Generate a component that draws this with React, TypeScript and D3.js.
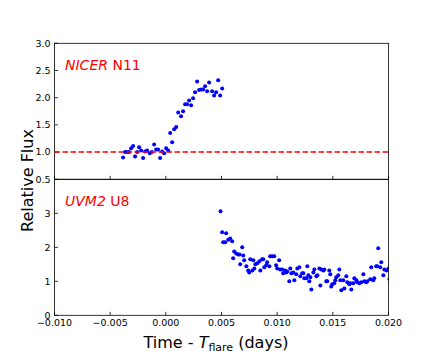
import React, { useEffect, useRef } from "react";
import * as d3 from "d3";

// NICER panel (top)
const nicerTime = [
  -0.00384, -0.00366, -0.00348, -0.0033, -0.00312, -0.00294, -0.00276, -0.00258, -0.0024, -0.00222,
  -0.00204, -0.00186, -0.00168, -0.00144, -0.00126, -0.00105, -0.00087, -0.00069, -0.00051, -0.00033,
  -0.00015, 0.00003, 0.00021, 0.00039, 0.00057, 0.00075, 0.00093, 0.00111, 0.00137, 0.00155,
  0.00173, 0.00191, 0.00209, 0.00227, 0.00245, 0.00263, 0.00281, 0.00299, 0.00317, 0.00335,
  0.00353, 0.00371, 0.00389, 0.00416, 0.00434, 0.00452, 0.0047, 0.00488, 0.00506,
];
const nicerFlux = [
  0.9, 1.0, 1.0, 1.0, 1.07, 1.11, 0.92, 1.0, 1.09, 1.03,
  0.89, 1.01, 1.03, 0.98, 1.0, 1.14, 1.05, 1.05, 0.89, 1.01,
  0.98, 1.07, 1.03, 1.35, 1.18, 1.42, 1.46, 1.73, 1.66, 1.75,
  1.88, 1.88, 1.95, 1.86, 1.99, 2.1, 2.3, 2.14, 2.15, 2.15,
  2.21, 2.12, 2.28, 2.12, 2.04, 2.1, 2.32, 2.04, 2.17,
];

// UVM2 panel (bottom)
const uvmTime = [
  0.00491, 0.00506, 0.00542, 0.00515, 0.00533, 0.0056, 0.00578, 0.00596, 0.00605, 0.00614,
  0.00632, 0.0065, 0.00662, 0.00668, 0.00686, 0.00695, 0.00704, 0.00723, 0.0074, 0.00749,
  0.00758, 0.00777, 0.00786, 0.00795, 0.00804, 0.00822, 0.0084, 0.00849, 0.00865, 0.00875,
  0.00884, 0.00902, 0.0091, 0.0093, 0.00937, 0.00955, 0.00973, 0.00991, 0.01, 0.01018,
  0.01027, 0.01045, 0.01054, 0.01072, 0.01081, 0.0109, 0.01109, 0.01118, 0.01127, 0.01145,
  0.01154, 0.01172, 0.01181, 0.01199, 0.01208, 0.01225, 0.01235, 0.01244, 0.01262, 0.01271,
  0.0128, 0.01289, 0.01298, 0.01307, 0.01325, 0.01334, 0.01352, 0.01361, 0.01379, 0.01388,
  0.01397, 0.01415, 0.01424, 0.01441, 0.0145, 0.01468, 0.01477, 0.01486, 0.01495, 0.01513,
  0.01522, 0.01531, 0.01549, 0.01558, 0.01567, 0.01594, 0.01576, 0.01603, 0.01621, 0.0163,
  0.01648, 0.01657, 0.01666, 0.01684, 0.01693, 0.01711, 0.0172, 0.01738, 0.01756, 0.01774,
  0.01783, 0.018, 0.01809, 0.01836, 0.01845, 0.01863, 0.01872, 0.0189, 0.01899, 0.01908,
  0.01926, 0.01935, 0.01954, 0.01963, 0.01981, 0.02, 0.02009,
];
const uvmFlux = [
  3.06, 2.44, 2.41, 2.15, 2.15, 2.22, 2.26, 2.18, 1.68, 1.88,
  1.82, 1.79, 1.79, 1.5, 2.0, 1.76, 1.62, 1.44, 1.32, 1.26,
  1.65, 1.32, 1.62, 1.38, 1.5, 1.53, 1.59, 1.32, 1.65, 1.65,
  1.41, 1.47, 1.56, 1.44, 1.74, 1.74, 1.74, 1.47, 1.38, 1.62,
  1.35, 1.35, 1.24, 1.32, 1.26, 1.29, 1.0, 1.38, 1.24, 1.26,
  1.03, 1.21, 1.38, 1.41, 1.15, 1.24, 1.24, 1.09, 1.09, 1.44,
  1.18, 1.0, 1.12, 0.76, 1.26, 1.35, 1.15, 1.18, 1.38, 0.88,
  1.35, 1.32, 1.35, 1.0, 1.0, 1.32, 1.21, 0.85, 0.91, 0.94,
  1.03, 1.12, 1.18, 1.35, 1.03, 1.03, 0.74, 0.79, 1.15, 0.97,
  0.91, 0.94, 0.76, 0.94, 1.09, 1.03, 0.97, 0.94, 0.97, 1.21,
  1.0, 0.97, 1.0, 1.06, 1.41, 1.03, 1.09, 1.44, 1.44, 1.97,
  1.41, 1.56, 1.18, 1.35, 1.32, 1.38, 1.06,
];

const xTicks = [-0.01, -0.005, 0, 0.005, 0.01, 0.015, 0.02];
const nicerTicks = [0.5, 1.0, 1.5, 2.0, 2.5, 3.0];
const uvmTicks = [0, 1, 2, 3];

const width = 432;
const height = 360;
const font = "DejaVu Sans, sans-serif";

const App = () => {
  const ref = useRef<SVGSVGElement>(null);

  useEffect(() => {
    const svg = d3.select(ref.current);
    svg.selectAll("*").remove();

    const left = 54.5;
    const right = 388.5;
    const x = d3.scaleLinear().domain([-0.01, 0.02]).range([left, right]);
    const yTop = d3.scaleLinear().domain([0.5, 3.0]).range([179.3, 43.3]);
    const yBot = d3.scaleLinear().domain([0, 4]).range([315.3, 179.3]);
    const fmt = (v: number) => d3.format(".3f")(v).replace("-", "\u2212");

    const panel = (
      y: d3.ScaleLinear<number, number>,
      times: number[],
      flux: number[],
      yTicks: number[],
      yFmt: (v: number) => string,
      showX: boolean,
      id: string
    ) => {
      const [y0, y1] = y.range();
      const clipId = "clip-" + id;
      svg
        .append("clipPath")
        .attr("id", clipId)
        .append("rect")
        .attr("x", left)
        .attr("y", y1)
        .attr("width", right - left)
        .attr("height", y0 - y1);

      const g = svg.append("g").attr("clip-path", `url(#${clipId})`);
      g.selectAll("circle")
        .data(times)
        .enter()
        .append("circle")
        .attr("cx", (d) => x(d))
        .attr("cy", (d, i) => y(flux[i]))
        .attr("r", 2)
        .attr("fill", "#0000ff");

      // bottom ticks (inward)
      svg
        .append("g")
        .selectAll("line")
        .data(xTicks)
        .enter()
        .append("line")
        .attr("x1", (d) => x(d))
        .attr("x2", (d) => x(d))
        .attr("y1", y0)
        .attr("y2", y0 - 3.5)
        .attr("stroke", "#000")
        .attr("stroke-width", 0.8);

      // left ticks (inward)
      svg
        .append("g")
        .selectAll("line")
        .data(yTicks)
        .enter()
        .append("line")
        .attr("x1", left)
        .attr("x2", left + 3.5)
        .attr("y1", (d) => y(d))
        .attr("y2", (d) => y(d))
        .attr("stroke", "#000")
        .attr("stroke-width", 0.8);

      svg
        .append("g")
        .selectAll("text")
        .data(yTicks)
        .enter()
        .append("text")
        .attr("x", left - 4)
        .attr("y", (d) => y(d))
        .attr("dy", "0.35em")
        .attr("text-anchor", "end")
        .style("font-family", font)
        .style("font-size", "9.5px")
        .text((d) => yFmt(d));

      if (showX) {
        svg
          .append("g")
          .selectAll("text")
          .data(xTicks)
          .enter()
          .append("text")
          .attr("x", (d) => x(d))
          .attr("y", y0 + 11)
          .attr("text-anchor", "middle")
          .style("font-family", font)
          .style("font-size", "9.5px")
          .text((d) => fmt(d));
      }

      svg
        .append("rect")
        .attr("x", left)
        .attr("y", y1)
        .attr("width", right - left)
        .attr("height", y0 - y1)
        .attr("fill", "none")
        .attr("stroke", "#000")
        .attr("stroke-width", 0.8);
    };

    panel(yTop, nicerTime, nicerFlux, nicerTicks, (v) => d3.format(".1f")(v), false, "top");
    panel(yBot, uvmTime, uvmFlux, uvmTicks, (v) => String(v), true, "bot");

    // reference line at flux = 1
    svg
      .append("line")
      .attr("x1", left)
      .attr("x2", right)
      .attr("y1", yTop(1))
      .attr("y2", yTop(1))
      .attr("stroke", "#ff0000")
      .attr("stroke-width", 1.5)
      .attr("stroke-dasharray", "5.5,2.5");

    // panel labels
    const lab1 = svg
      .append("text")
      .attr("x", 65)
      .attr("y", 70)
      .attr("fill", "#ff0000")
      .style("font-family", font)
      .style("font-size", "14px");
    lab1.append("tspan").style("font-style", "italic").text("NICER");
    lab1.append("tspan").text(" N11");

    const lab2 = svg
      .append("text")
      .attr("x", 65)
      .attr("y", 206)
      .attr("fill", "#ff0000")
      .style("font-family", font)
      .style("font-size", "14px");
    lab2.append("tspan").style("font-style", "italic").text("UVM2");
    lab2.append("tspan").text(" U8");

    // axis titles
    svg
      .append("text")
      .attr("transform", `translate(33,180.5) rotate(-90)`)
      .attr("text-anchor", "middle")
      .style("font-family", font)
      .style("font-size", "16px")
      .text("Relative Flux");

    const xl = svg
      .append("text")
      .attr("x", 216)
      .attr("y", 348)
      .attr("text-anchor", "middle")
      .style("font-family", font)
      .style("font-size", "16px");
    xl.append("tspan").text("Time - ");
    xl.append("tspan").style("font-style", "italic").text("T");
    xl.append("tspan").attr("dy", 3).style("font-size", "11px").text("flare");
    xl.append("tspan").attr("dy", -3).text(" (days)");
  }, []);

  return (
    <svg
      ref={ref}
      width={width}
      height={height}
      style={{ position: "absolute", left: 0, top: 0, background: "#fff" }}
    ></svg>
  );
};

export default App;
